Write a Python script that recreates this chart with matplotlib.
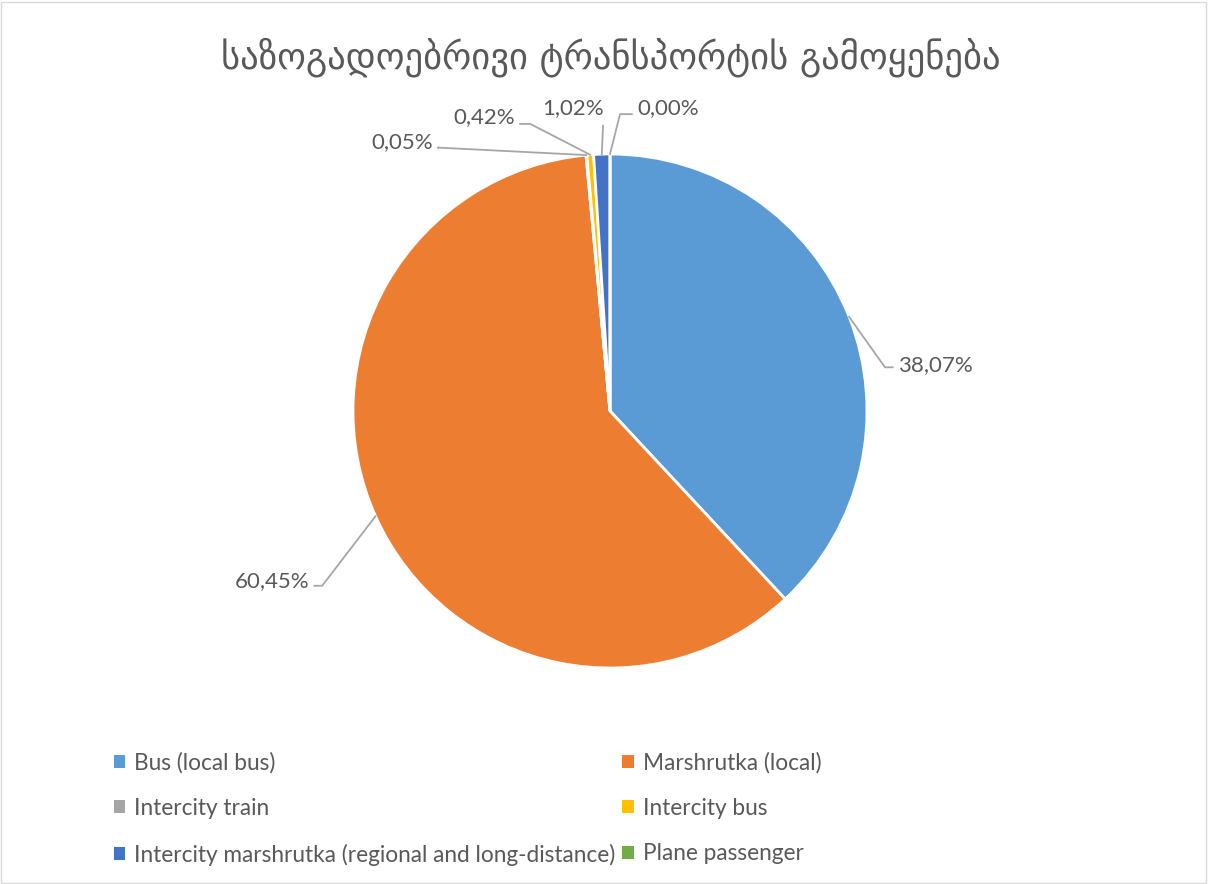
import numpy as np
import matplotlib.pyplot as plt
from matplotlib.patches import Patch, Rectangle

title = "საზოგადოებრივი ტრანსპორტის გამოყენება"
categories = ["Bus (local bus)", "Marshrutka (local)", "Intercity train",
              "Intercity bus", "Intercity marshrutka (regional and long-distance)",
              "Plane passenger"]
shares = [38.07, 60.45, 0.05, 0.42, 1.02, 0.00]
colors = ["#5B9BD5", "#ED7D31", "#A5A5A5", "#FFC000", "#4472C4", "#70AD47"]

# where each percentage label sits (text anchor x, y, horizontal alignment, elbow x, elbow y)
label_pos = [
    (1.12, 0.18, "left", 1.07, 0.17),
    (-1.17, -0.66, "right", -1.12, -0.68),
    (-0.69, 1.045, "right", -0.67, 1.025),
    (-0.37, 1.145, "right", -0.31, 1.117),
    (-0.145, 1.178, "center", -0.027, 1.11),
    (0.105, 1.178, "left", 0.039, 1.155),
]

txt = "#595959"
plt.rcParams['font.family'] = ['Lato', 'DejaVu Sans']

fig = plt.figure(figsize=(12.08, 8.84), dpi=100)
ax = fig.add_axes([0, 0, 1, 1])

wedges, _ = ax.pie(shares, colors=colors, startangle=90, counterclock=False,
                   wedgeprops=dict(edgecolor="white", linewidth=2))

for w, v, (tx, ty, ha, ex, ey) in zip(wedges, shares, label_pos):
    ang = np.deg2rad((w.theta1 + w.theta2) / 2)
    px, py = np.cos(ang), np.sin(ang)
    if ha == "center":
        ax.plot([px, ex], [py, ey], color="#A6A6A6", lw=1.3)
    else:
        endx = tx - 0.02 if ha == "left" else tx + 0.02
        ax.plot([px, ex, endx], [py, ey, ey], color="#A6A6A6", lw=1.3)
    s = f"{v:.2f}%".replace(".", ",")
    ax.text(tx, ty, s, ha=ha, va="center", fontsize=16, color=txt)

ax.set_xlim(-610 / 257, (1208 - 610) / 257)
ax.set_ylim((411 - 884) / 257, 411 / 257)
ax.set_aspect("auto")
ax.axis("off")

fig.text(0.506, 1 - 57 / 884, title, ha="center", va="center", fontsize=26.4,
         color=txt, family=['DejaVu Sans'])

order = [0, 2, 4, 1, 3, 5]
handles = [Patch(facecolor=colors[i], edgecolor="none", label=categories[i]) for i in order]
fig.legend(handles=handles, loc="upper left", bbox_to_anchor=(114 / 1208, 1 - 752 / 884),
           ncol=2, frameon=False, fontsize=16.3, labelcolor=txt, handlelength=0.5,
           handleheight=0.5, handletextpad=0.4, labelspacing=1.08, columnspacing=0.3,
           borderpad=0, borderaxespad=0)

fig.patches.append(Rectangle((0.001, 0.001), 0.997, 0.997, transform=fig.transFigure,
                             fill=False, edgecolor="#D9D9D9", lw=1))

fig.savefig("out.png", dpi=100, facecolor="white")
